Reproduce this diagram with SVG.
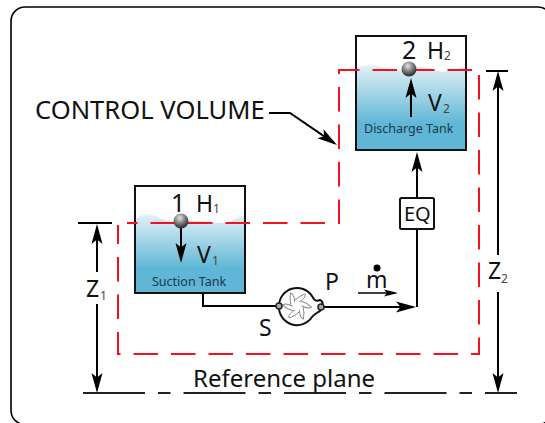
<svg xmlns="http://www.w3.org/2000/svg" width="545" height="423" viewBox="0 0 545 423">
<style>
text{font-family:"Noto Sans","Open Sans",sans-serif;fill:#111}
.l{fill:none;stroke:#000;stroke-width:2}
.r{fill:none;stroke:#f4101f;stroke-width:2;stroke-dasharray:24.5 13}
.t{fill:url(#w);stroke:none}
.b{fill:none;stroke:#111;stroke-width:2}
.sub{font-size:12px;fill:#444}
.big{font-size:25px}
.mid{font-size:23px}
.cap{font-size:12.5px;fill:#1c3a4a}
.bl{fill:none;stroke:#888;stroke-width:1}
</style>
<defs>
<linearGradient id="w" x1="0" y1="0" x2="0" y2="1"><stop offset="0" stop-color="#e2f1f6"/><stop offset="0.7" stop-color="#5fb6d6"/><stop offset="1" stop-color="#5fb6d6"/></linearGradient>
<radialGradient id="ball" cx="0.42" cy="0.3" r="0.75"><stop offset="0" stop-color="#e4e4e4"/><stop offset="0.55" stop-color="#707070"/><stop offset="1" stop-color="#1a1a1a"/></radialGradient>
<marker id="a" markerUnits="userSpaceOnUse" markerWidth="24" markerHeight="14" refX="17" refY="7" orient="auto"><path d="M0 1.5 L20 7 L0 12.5 L4.5 7Z" fill="#000"/></marker>
<marker id="s" markerUnits="userSpaceOnUse" markerWidth="16" markerHeight="10" refX="11" refY="5" orient="auto"><path d="M0 1.5 L14 5 L0 8.500 L3 5Z" fill="#000"/></marker>
<path id="blade" class="bl" d="M2 -4 C5 -6 9 -8 8 -12 C5 -11 1 -9 -2 -6"/>
</defs>
<rect id="frame" x="11" y="7" width="541" height="417.500" rx="14" fill="#fff" stroke="#000" stroke-width="1.6"/>
<g id="suction-tank">
<path class="t" d="M136 219 C142 214 150 213 158 217 C166 222 174 222 185 221 C200 220 212 223 222 223 C230 223 238 217 244 215 V292 H136Z"/>
<rect class="b" x="135" y="186" width="110" height="107"/>
<text x="171" y="212" class="big">1</text><text x="196" y="212" class="mid">H</text><text x="213" y="213" class="sub">1</text>
<text x="197" y="263" class="mid">V</text><text x="212" y="265" class="sub">1</text>
<text x="152" y="286" class="cap">Suction Tank</text>
</g>
<g id="discharge-tank">
<path class="t" d="M357 68 C365 64 375 65 385 68 C395 71 405 71 412 68 C420 65 430 68 438 71 C448 73 458 68 465 66 V149 H357Z"/>
<rect class="b" x="356" y="36" width="110" height="114"/>
<text x="402" y="59" class="big">2</text><text x="427" y="59" class="mid">H</text><text x="444" y="60" class="sub">2</text>
<text x="428" y="111" class="mid">V</text><text x="443" y="113" class="sub">2</text>
<text x="364" y="133" class="cap">Discharge Tank</text>
</g>
<g id="eq"><rect x="400" y="198" width="34" height="31" rx="1.5" fill="#fff" stroke="#111" stroke-width="2"/><text x="404" y="221" font-size="20">EQ</text></g>
<g id="connectors">
<path class="l" d="M203 293 V306 H278"/>
<path class="l" d="M322 307 H413" marker-end="url(#a)"/>
<path class="l" d="M417 307 V229"/>
<path class="l" d="M417 198 V155" marker-end="url(#a)"/>
<path class="l" d="M181 226 V260" marker-end="url(#a)"/>
<path class="l" d="M411 117 V81" marker-end="url(#a)"/>
<path d="M358 293 H395" fill="none" stroke="#000" stroke-width="1.6" marker-end="url(#s)"/>
<path class="l" d="M269 113 H290 L334.500 143.300" marker-end="url(#a)"/>
<path class="r" d="M472 70 H339 V223 H127"/>
<path class="r" d="M479 75 V354 H118 V225"/>
<path class="l" d="M78 223 H112M486 71 H508"/>
<path class="l" d="M97 272 V227" marker-end="url(#a)"/>
<path class="l" d="M97 304 V390" marker-end="url(#a)"/>
<path class="l" d="M498 255 V74" marker-end="url(#a)"/>
<path class="l" d="M498 292 V390" marker-end="url(#a)"/>
<path d="M83 393 H517" fill="none" stroke="#222" stroke-width="2" stroke-dasharray="62 13 12.500 13"/>
</g>
<g id="pump">
<path d="M279 306 A18 18 0 0 1 312 296 C314 300 316 302 320 300 C323 301 324 306 321 310 C318 313 315 313 312 317 A18 18 0 0 1 279 306Z" fill="#fff" stroke="#111" stroke-width="2"/>
<g transform="translate(297 306)"><use href="#blade"/><use href="#blade" transform="rotate(60)"/><use href="#blade" transform="rotate(120)"/><use href="#blade" transform="rotate(180)"/><use href="#blade" transform="rotate(240)"/><use href="#blade" transform="rotate(300)"/></g>
<circle cx="279" cy="306" r="3" fill="#aaa" stroke="#222" stroke-width="1.5"/><circle cx="321" cy="307" r="3" fill="#aaa" stroke="#222" stroke-width="1.5"/>
</g>
<g id="suction-ball"><circle cx="181" cy="221" r="7.500" fill="url(#ball)"/></g>
<g id="discharge-ball"><circle cx="409" cy="69" r="7.500" fill="url(#ball)"/></g>
<g id="labels">
<text x="35" y="119" font-size="25.600">CONTROL VOLUME</text>
<text x="86" y="297" class="mid">Z</text><text x="100" y="300" class="sub">1</text>
<text x="488" y="279" class="mid">Z</text><text x="501" y="283" class="sub">2</text>
<text x="325" y="290" class="mid">P</text><text x="259" y="336" class="mid">S</text>
<text x="366" y="288" class="mid">m</text><circle cx="377" cy="268" r="3.500" fill="#000"/>
<text x="193" y="387" font-size="24">Reference plane</text>
</g>
</svg>
